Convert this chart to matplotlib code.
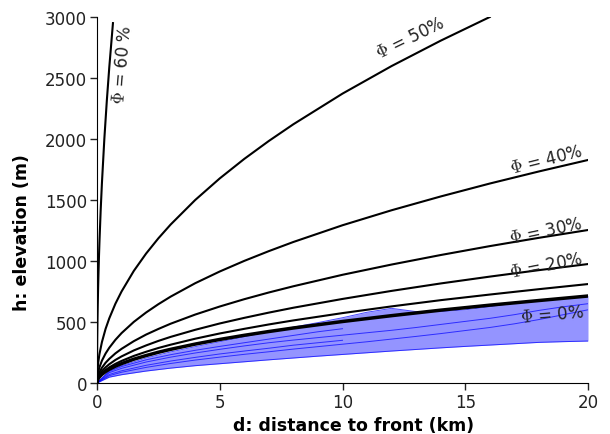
import numpy as np
import matplotlib
matplotlib.use("Agg")
import matplotlib.pyplot as plt

plt.rcParams['mathtext.fontset'] = 'cm'
plt.rcParams['font.family'] = ['DejaVu Sans']

# distance grid (km) for the model curves
d_grid = [0, 0.02, 0.05, 0.1, 0.2, 0.35, 0.5, 0.75, 1, 1.5, 2, 2.5, 3, 4, 5, 6, 7, 8, 10, 12, 14, 16, 18, 20]
h_phi40 = [0, 58, 91, 129, 183, 242, 289, 354, 409, 501, 578, 646, 708, 818, 914, 1001, 1081, 1156, 1293, 1416, 1529, 1635, 1734, 1828]
h_phi30 = [0, 40, 63, 89, 125, 166, 198, 243, 280, 343, 397, 443, 486, 561, 627, 687, 742, 793, 887, 971, 1049, 1122, 1190, 1254]
h_phi20 = [0, 31, 49, 69, 98, 129, 154, 189, 218, 267, 308, 345, 378, 436, 488, 534, 577, 617, 689, 755, 816, 872, 925, 975]
h_phi10 = [0, 26, 41, 57, 81, 107, 128, 157, 181, 222, 256, 287, 314, 363, 406, 444, 480, 513, 573, 628, 679, 725, 769, 811]
h_phi0 = [0, 23, 36, 50, 71, 94, 113, 138, 159, 195, 225, 252, 276, 319, 357, 391, 422, 451, 504, 552, 597, 638, 676, 713]

d_phi50 = [0, 0.02, 0.05, 0.1, 0.2, 0.35, 0.5, 0.75, 1, 1.5, 2, 2.5, 3, 4, 5, 6, 7, 8, 10, 12, 14, 16]
h_phi50 = [0, 106, 168, 237, 335, 444, 530, 650, 750, 919, 1061, 1186, 1299, 1500, 1677, 1837, 1984, 2121, 2372, 2598, 2806, 3000]

d_phi60 = [0, 0.003, 0.01, 0.02, 0.03, 0.045, 0.06, 0.08, 0.1, 0.15, 0.2, 0.3, 0.4, 0.5, 0.65]
h_phi60 = [0, 200, 366, 517, 634, 776, 896, 1035, 1157, 1417, 1636, 2004, 2314, 2587, 2950]

# observed glacier profiles (blue band)
d_obs = [0, 0.5, 1, 2, 3, 4, 5, 6, 7, 8, 9, 10, 11, 12, 13, 14, 15, 16, 17, 18, 19, 20]
h_obs_upper = [0, 100, 142, 205, 255, 298, 338, 378, 418, 458, 495, 535, 580, 612, 585, 585, 600, 625, 652, 678, 698, 718]
h_obs_lower = [0, 48, 68, 98, 122, 142, 158, 174, 190, 205, 220, 234, 248, 262, 275, 288, 300, 311, 322, 333, 339, 344]
h_obs_a = [0, 85, 120, 172, 212, 246, 276, 304, 330, 352, 372, 392, 412, 432, 455, 480, 505, 530, 560, 595, 625, 650]
h_obs_b = [0, 95, 135, 190, 232, 268, 300, 330, 360, 390, 420, 445]
h_obs_c = [0, 70, 100, 145, 180, 210, 238, 262, 285, 310, 330, 350]
h_obs_d = [0, 60, 88, 128, 160, 188, 212, 235, 256, 278, 298, 318, 338, 360, 382, 405, 430, 455, 485, 520, 560, 600]

fig = plt.figure(figsize=(6.1, 4.35), dpi=100)
ax = fig.add_axes([97/610, 51/435, 491/610, 366/435])

blue = '#0000ff'
ax.fill_between(d_obs, h_obs_lower, h_obs_upper, color=blue, alpha=0.42, lw=0)
for prof in (h_obs_upper, h_obs_lower, h_obs_a, h_obs_d):
    ax.plot(d_obs, prof, color=blue, lw=0.7, alpha=0.7)
for prof in (h_obs_b, h_obs_c):
    ax.plot(d_obs[:len(prof)], prof, color=blue, lw=0.7, alpha=0.7)

for h in (h_phi40, h_phi30, h_phi20, h_phi10):
    ax.plot(d_grid, h, color='black', lw=1.5)
ax.plot(d_grid, h_phi0, color='black', lw=2.5)
ax.plot(d_phi50, h_phi50, color='black', lw=1.5)
ax.plot(d_phi60, h_phi60, color='black', lw=1.5)

lab_kw = dict(fontsize=12, ha='center', va='center', rotation_mode='anchor', color='#222222')
ax.text(12.75, 2836, r'$\Phi$ = 50%', rotation=26, **lab_kw)
ax.text(18.29, 1836, r'$\Phi$ = 40%', rotation=14, **lab_kw)
ax.text(18.29, 1254, r'$\Phi$ = 30%', rotation=12, **lab_kw)
ax.text(18.29, 967, r'$\Phi$ = 20%', rotation=11, **lab_kw)
ax.text(18.53, 566, r'$\Phi$ = 0%', rotation=5, **lab_kw)
ax.text(1.02, 2615, r'$\Phi$ = 60 %', rotation=85, **lab_kw)

ax.set_xlim(0, 20)
ax.set_ylim(0, 3000)
ax.set_xticks([0, 5, 10, 15, 20])
ax.set_yticks([0, 500, 1000, 1500, 2000, 2500, 3000])
for s in ('top', 'right'):
    ax.spines[s].set_visible(False)
ax.tick_params(direction='out', length=5, width=1, labelsize=12, colors='#222222', pad=2)
ax.set_xlabel('d: distance to front (km)', fontsize=12.5, fontweight='bold')
ax.set_ylabel('h: elevation (m)', fontsize=12.5, fontweight='bold')
ax.xaxis.set_label_coords(0.523, -0.09)
ax.yaxis.set_label_coords(-0.135, 0.415)

fig.savefig('out.png', dpi=100)
